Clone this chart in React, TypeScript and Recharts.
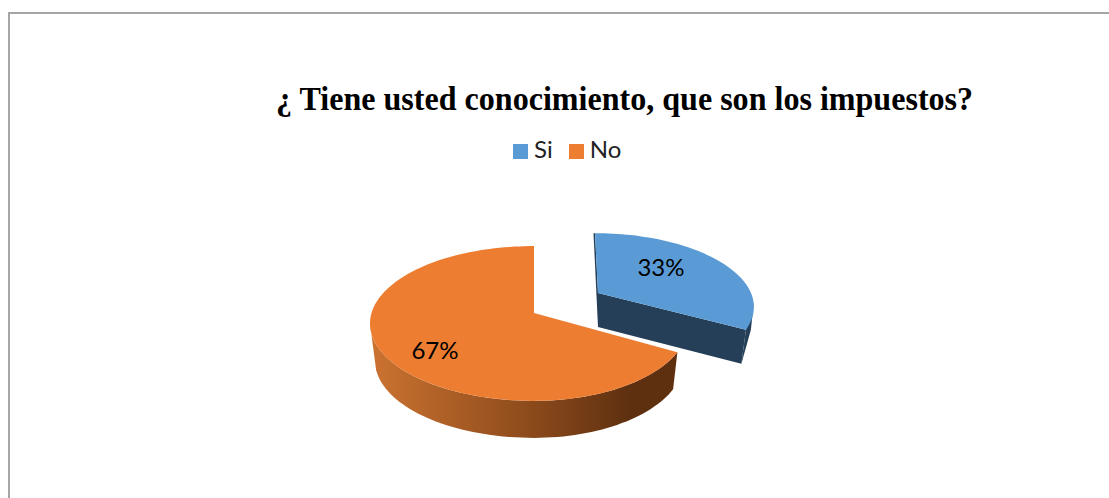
import { PieChart, Pie, Cell, Legend } from 'recharts'

const CATEGORIES = ['Si', 'No']
const VALUES = [33, 67]

const COLORS = ['#5B9BD5', '#ED7D31']
const TITLE = '¿ Tiene usted conocimiento, que son los impuestos?'

const CX = 534
// the legend takes 29px off the top of the plot, so this lands on y=313
const CY = 284
const BODY_FONT = 'Lato, "Open Sans", sans-serif'

// per slice look of the fake 3D: perspective, radii, lift, depth
const SLICE_STYLE: Record<string, any> = {
  Si: { dx: 64, dy: -20, p: 0.17, ry: 70, left: 153, right: 153, lean: 0.05, depth: 34, labelDx: 63, labelDy: -27 },
  No: { dx: 0, dy: 0, p: 0.135, ry: 76, left: 162.5, right: 153, lean: 0, depth: 37, labelDx: -99, labelDy: 36 },
}

function project(angle: number, cx: number, cy: number, s: any) {
  const rad = (angle * Math.PI) / 180
  const x = Math.cos(rad)
  const yf = -Math.sin(rad)
  const w = 1 / (1 - s.p * yf)
  const py = s.ry * yf * w
  const px = (x < 0 ? s.left : s.right) * x * w + s.lean * py
  return { x: cx + px, y: cy + py }
}

function rim(from: number, to: number, cx: number, cy: number, s: any) {
  const steps = Math.max(2, Math.ceil(Math.abs(to - from) / 2))
  const pts = []
  for (let i = 0; i <= steps; i++) {
    pts.push(project(from + ((to - from) * i) / steps, cx, cy, s))
  }
  return pts
}

const toPath = (pts: { x: number; y: number }[]) =>
  pts.map((p, i) => `${i ? 'L' : 'M'}${p.x.toFixed(1)} ${p.y.toFixed(1)}`).join(' ')

function Slice3D(props: any) {
  const { cx, cy, startAngle, endAngle, fill, name } = props
  const s = SLICE_STYLE[name]
  const ax = cx + s.dx
  const ay = cy + s.dy
  const top = rim(startAngle, endAngle, ax, ay, s)
  const lower = (p: { x: number; y: number }) => ({
    x: ax + (p.x - ax) * 0.97,
    y: p.y + s.depth,
  })

  if (s.dx) {
    // exploded slice: its cut face and wall are the same dark blue
    const corner = project(endAngle, ax, ay, s)
    const apex = { x: ax, y: ay }
    const head = project(startAngle, ax, ay, s)
    const edge = project(-8, ax, ay, s)
    return (
      <g>
        <path d={toPath([head, apex, lower(apex), { x: head.x - 1.5, y: head.y }]) + ' Z'} fill="#243F57" />
        <path d={toPath([apex, corner, lower(corner), lower(apex)]) + ' Z'} fill="#243F57" />
        <path d={toPath([edge, { x: corner.x + 5, y: corner.y }, lower(corner), corner]) + ' Z'} fill="#243F57" />
        <path d={`${toPath(top)} L${ax} ${ay} Z`} fill={fill} />
      </g>
    )
  }

  // outer wall of the big slice: top rim out to its left tip, lower rim back
  const wall = [...rim(startAngle, -172, ax, ay, s), ...rim(-165, startAngle, ax, ay, s).map(lower)]
  return (
    <g>
      <defs>
        <linearGradient id="noWall" x1="0" y1="0" x2="1" y2="0">
          <stop offset="0" stopColor="#CC7331" />
          <stop offset="0.5" stopColor="#8F4C1C" />
          <stop offset="0.85" stopColor="#5E3010" />
          <stop offset="1" stopColor="#5E3010" />
        </linearGradient>
      </defs>
      <path d={toPath(wall) + ' Z'} fill="url(#noWall)" />
      <path d={`${toPath(top)} L${ax} ${ay} Z`} fill={fill} />
    </g>
  )
}

function SliceLabel(props: any) {
  const s = SLICE_STYLE[props.name]
  return (
    <text
      x={props.cx + s.dx + s.labelDx}
      y={props.cy + s.dy + s.labelDy}
      textAnchor="middle"
      dominantBaseline="central"
      fontFamily={BODY_FONT}
      fontSize={24}
      fill="#000"
    >
      {`${Math.round(props.percent * 100)}%`}
    </text>
  )
}

const data = CATEGORIES.map((name, i) => ({ name, value: VALUES[i] }))

export default function App() {
  return (
    <div style={{ position: 'absolute', left: 0, top: 0, width: 1109, height: 498, overflow: 'hidden', background: '#fff' }}>
      <div style={{ position: 'absolute', left: 8, top: 12, width: 1101, height: 486, borderTop: '2px solid #A6A6A6', borderLeft: '2px solid #A6A6A6' }} />
      <div
        style={{
          position: 'absolute',
          left: 276,
          top: 77,
          fontFamily: '"Liberation Serif", serif',
          fontWeight: 700,
          fontSize: 34,
          lineHeight: '44px',
          whiteSpace: 'nowrap',
          color: '#000',
          transform: 'scaleX(0.943)',
          transformOrigin: 'left center',
        }}
      >
        {TITLE}
      </div>
      <div style={{ position: 'absolute', left: 0, top: 0 }}>
        <PieChart width={1109} height={498} margin={{ top: 0, right: 0, bottom: 0, left: 0 }}>
          <Legend
            verticalAlign="top"
            align="left"
            iconType="square"
            iconSize={15}
            itemSorter={null}
            wrapperStyle={{ left: 513, top: 134, width: 130, padding: 0, fontFamily: BODY_FONT, fontSize: 24 }}
            formatter={(value: string) => (
              <span style={{ color: '#222', marginLeft: 2, marginRight: 6 }}>{value}</span>
            )}
          />
          <Pie
            data={data}
            dataKey="value"
            nameKey="name"
            cx={CX}
            cy={CY}
            outerRadius={160}
            startAngle={90}
            endAngle={-270}
            stroke="none"
            labelLine={false}
            label={SliceLabel}
            shape={Slice3D}
            legendType="square"
            isAnimationActive={false}
          >
            {data.map((d, i) => (
              <Cell key={d.name} fill={COLORS[i]} />
            ))}
          </Pie>
        </PieChart>
      </div>
    </div>
  )
}
